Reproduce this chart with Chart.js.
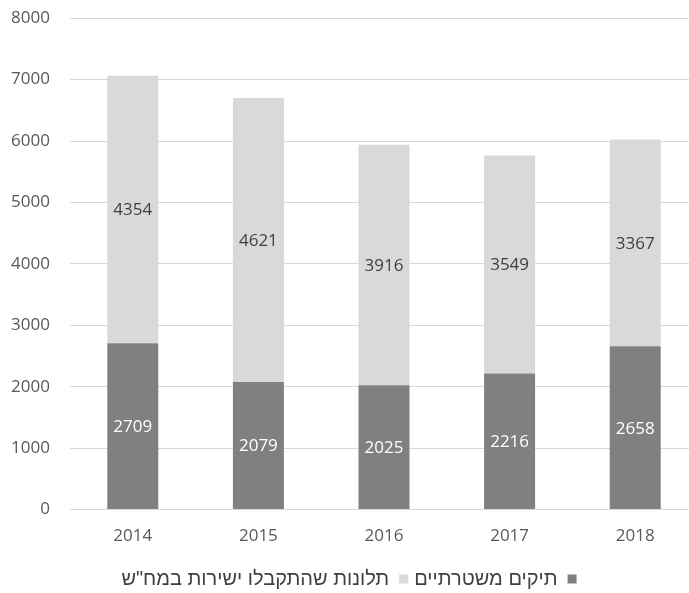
<!DOCTYPE html>
<html>
<head>
<meta charset="utf-8">
<script src="https://cdn.jsdelivr.net/npm/chart.js@4"></script>
<style>
  html, body { margin: 0; padding: 0; background: #fff; overflow: hidden; }
  #wrap { width: 698px; height: 611px; margin-top: -12px; }
</style>
</head>
<body>
<div id="wrap"><canvas id="myChart" width="698" height="611"></canvas></div>
<script>
var years = ['2014', '2015', '2016', '2017', '2018'];
var police_files = [2709, 2079, 2025, 2216, 2658];
var direct_complaints = [4354, 4621, 3916, 3549, 3367];
var y_ticks = [0, 1000, 2000, 3000, 4000, 5000, 6000, 7000, 8000];

var font_family = "'Open Sans', 'DejaVu Sans', sans-serif";

// draws the value in the middle of each bar segment
var segment_labels = {
    id: 'segment_labels',
    afterDatasetsDraw: function(chart) {
        var ctx = chart.ctx;
        ctx.save();
        ctx.font = '17px ' + font_family;
        ctx.textAlign = 'center';
        ctx.textBaseline = 'middle';
        chart.data.datasets.forEach(function(ds, i) {
            var meta = chart.getDatasetMeta(i);
            meta.data.forEach(function(bar, j) {
                ctx.fillStyle = ds.labelColor;
                var mid = (bar.y + bar.base) / 2;
                ctx.fillText(String(ds.data[j]), bar.x, mid + 1);
            });
        });
        ctx.restore();
    }
};

function draw_chart() {
    const ctx = document.getElementById('myChart');
    new Chart(ctx, {
        type: 'bar',
        data: {
            labels: years,
            datasets: [{
                label: 'תיקים משטרתיים',
                data: police_files,
                backgroundColor: '#808080',
                labelColor: '#ffffff',
                categoryPercentage: 1,
                barPercentage: 0.406
            }, {
                label: 'תלונות שהתקבלו ישירות במח"ש',
                data: direct_complaints,
                backgroundColor: '#d9d9d9',
                labelColor: '#404040',
                categoryPercentage: 1,
                barPercentage: 0.406
            }]
        },
        plugins: [segment_labels],
        options: {
            responsive: false,
            animation: false,
            layout: {
                padding: { top: 0, right: 0, bottom: 0, left: 0 }
            },
            plugins: {
                tooltip: { enabled: false },
                legend: {
                    position: 'bottom',
                    rtl: true,
                    textDirection: 'rtl',
                    labels: {
                        boxWidth: 9,
                        boxHeight: 9,
                        color: '#404040',
                        padding: 6,
                        font: { family: "'Liberation Sans', 'DejaVu Sans', sans-serif", size: 20 }
                    }
                }
            },
            scales: {
                x: {
                    stacked: true,
                    afterFit: function(scale) { scale.height += 9; },
                    grid: { display: false },
                    border: { display: false },
                    ticks: {
                        color: '#595959',
                        padding: 8,
                        font: { family: font_family, size: 17 }
                    }
                },
                y: {
                    stacked: true,
                    min: 0,
                    max: 8000,
                    afterBuildTicks: function(scale) {
                        scale.ticks = y_ticks.map(function(v) { return { value: v }; });
                    },
                    afterFit: function(scale) { scale.width = 70; },
                    grid: {
                        color: '#d9d9d9',
                        lineWidth: 1,
                        drawTicks: false
                    },
                    border: { display: false },
                    ticks: {
                        color: '#595959',
                        padding: 20,
                        font: { family: font_family, size: 17 },
                        callback: function(value) { return String(value); }
                    }
                }
            }
        }
    });
}
draw_chart();
</script>
</body>
</html>
